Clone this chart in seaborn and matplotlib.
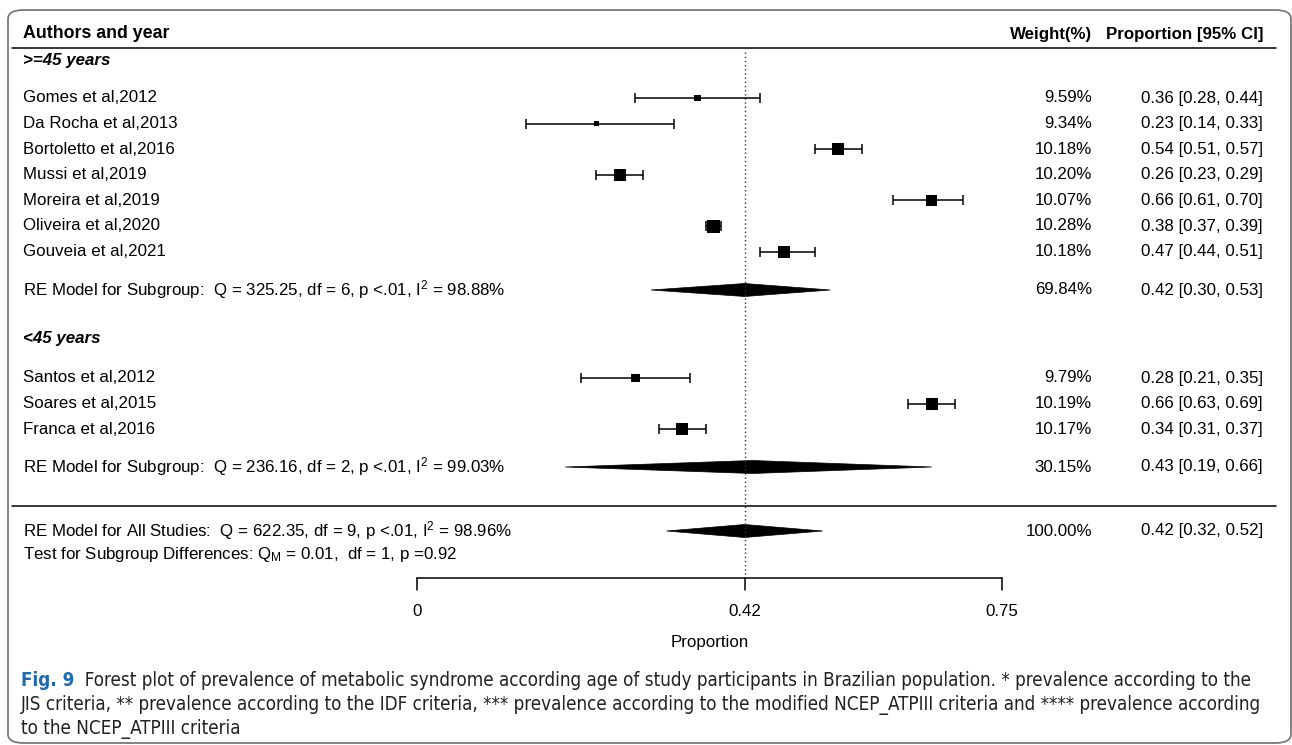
import numpy as np
import pandas as pd
import seaborn as sns
import matplotlib
matplotlib.use("Agg")
import matplotlib.pyplot as plt
from matplotlib.patches import FancyBboxPatch, Polygon

# ---------------- data ----------------
group1_label = ">=45 years"
group1_studies = ["Gomes et al,2012", "Da Rocha et al,2013", "Bortoletto et al,2016",
                  "Mussi et al,2019", "Moreira et al,2019", "Oliveira et al,2020",
                  "Gouveia et al,2021"]
group1_est = [0.36, 0.23, 0.54, 0.26, 0.66, 0.38, 0.47]
group1_lo = [0.28, 0.14, 0.51, 0.23, 0.61, 0.37, 0.44]
group1_hi = [0.44, 0.33, 0.57, 0.29, 0.70, 0.39, 0.51]
group1_w = [9.59, 9.34, 10.18, 10.20, 10.07, 10.28, 10.18]
group1_re = (0.42, 0.30, 0.53, 69.84)
group1_re_text = "RE Model for Subgroup:  Q = 325.25, df = 6, p <.01, $\\mathregular{I^2}$ = 98.88%"

group2_label = "<45 years"
group2_studies = ["Santos et al,2012", "Soares et al,2015", "Franca et al,2016"]
group2_est = [0.28, 0.66, 0.34]
group2_lo = [0.21, 0.63, 0.31]
group2_hi = [0.35, 0.69, 0.37]
group2_w = [9.79, 10.19, 10.17]
group2_re = (0.43, 0.19, 0.66, 30.15)
group2_re_text = "RE Model for Subgroup:  Q = 236.16, df = 2, p <.01, $\\mathregular{I^2}$ = 99.03%"

overall_re = (0.42, 0.32, 0.52, 100.00)
overall_text = "RE Model for All Studies:  Q = 622.35, df = 9, p <.01, $\\mathregular{I^2}$ = 98.96%"
subgroup_test_text = "Test for Subgroup Differences: $\\mathregular{Q_M}$ = 0.01,  df = 1, p =0.92"

x_ticks = [0, 0.42, 0.75]
x_tick_labels = ["0", "0.42", "0.75"]
x_label = "Proportion"
ref_line = 0.42

caption_bold = "Fig. 9"
caption_lines = [
    "Forest plot of prevalence of metabolic syndrome according age of study participants in Brazilian population. * prevalence according to the",
    "JIS criteria, ** prevalence according to the IDF criteria, *** prevalence according to the modified NCEP_ATPIII criteria and **** prevalence according",
    "to the NCEP_ATPIII criteria",
]

# ---------------- layout ----------------
W, H = 1292, 745
sns.set_theme(style="white")
plt.rcParams["font.family"] = ["Liberation Sans", "DejaVu Sans"]
plt.rcParams["mathtext.default"] = "regular"
plt.rcParams["text.color"] = "black"

fig = plt.figure(figsize=(W / 100, H / 100), dpi=100)
ax = fig.add_axes([0, 0, 1, 1])
X0, SCALE = 417, 780.0  # pixel of x=0, pixels per unit
ax.set_xlim(-X0 / SCALE, (W - X0) / SCALE)
ax.set_ylim(H, 0)
ax.axis("off")


def fx(px):
    return (px - X0) / SCALE


FS = 12.2
row_h = 25.6
col_label = fx(23)
col_w = fx(1092)
col_ci = fx(1263)
line_l, line_r = fx(12), fx(1276)

# header
ax.text(col_label, 34, "Authors and year", fontsize=FS + 0.6, fontweight="bold", va="center", ha="left")
ax.text(col_w, 34, "Weight(%)", fontsize=FS, fontweight="bold", va="center", ha="right")
ax.text(col_ci, 34, "Proportion [95% CI]", fontsize=FS, fontweight="bold", va="center", ha="right")
ax.plot([line_l, line_r], [48, 48], color="black", lw=1.1)

g1_y = [98 + i * row_h for i in range(len(group1_studies))]
g2_y = [378 + i * row_h for i in range(len(group2_studies))]
df = pd.DataFrame({
    "study": group1_studies + group2_studies,
    "est": group1_est + group2_est,
    "lo": group1_lo + group2_lo,
    "hi": group1_hi + group2_hi,
    "w": group1_w + group2_w,
    "y": g1_y + g2_y,
})
wmin, wmax = df["w"].min(), df["w"].max()
side_px = 4.5 + (df["w"] - wmin) / (wmax - wmin) * 8.5
area = (side_px * 0.72) ** 2
sizes = dict(zip(df["study"], area))

# dotted reference line
ax.plot([ref_line, ref_line], [52, 578], color="#333333", lw=1.0, ls=(0, (1, 2)))

# CI lines
ax.hlines(df["y"], df["lo"], df["hi"], color="black", lw=1.1)
ax.vlines(df["lo"], df["y"] - 5, df["y"] + 5, color="black", lw=1.1)
ax.vlines(df["hi"], df["y"] - 5, df["y"] + 5, color="black", lw=1.1)
sns.scatterplot(data=df, x="est", y="y", size="study", sizes=sizes, marker="s",
                color="black", edgecolor="none", legend=False, ax=ax, zorder=5)

for _, r in df.iterrows():
    ax.text(col_label, r["y"], r["study"], fontsize=FS, va="center", ha="left")
    ax.text(col_w, r["y"], f"{r['w']:.2f}%", fontsize=FS, va="center", ha="right")
    ax.text(col_ci, r["y"], f"{r['est']:.2f} [{r['lo']:.2f}, {r['hi']:.2f}]",
            fontsize=FS, va="center", ha="right")

# group labels
ax.text(col_label, 61, group1_label, fontsize=FS, fontweight="bold", style="italic", va="center")
ax.text(col_label, 339, group2_label, fontsize=FS, fontweight="bold", style="italic", va="center")


def diamond(y, est, lo, hi, w, txt):
    ax.add_patch(Polygon([(lo, y), (est, y - 6.5), (hi, y), (est, y + 6.5)],
                         closed=True, color="black", lw=0.5))
    ax.text(col_label, y, txt, fontsize=FS, va="center", ha="left")
    ax.text(col_w, y, f"{w:.2f}%", fontsize=FS, va="center", ha="right")
    ax.text(col_ci, y, f"{est:.2f} [{lo:.2f}, {hi:.2f}]", fontsize=FS, va="center", ha="right")


diamond(290, group1_re[0], group1_re[1], group1_re[2], group1_re[3], group1_re_text)
diamond(467, group2_re[0], group2_re[1], group2_re[2], group2_re[3], group2_re_text)
ax.plot([line_l, line_r], [506, 506], color="black", lw=1.1)
diamond(531, overall_re[0], overall_re[1], overall_re[2], overall_re[3], overall_text)
ax.text(col_label, 555, subgroup_test_text, fontsize=FS, va="center", ha="left")

# x axis
ax.plot([x_ticks[0], x_ticks[-1]], [578, 578], color="black", lw=1.1)
for t, lab in zip(x_ticks, x_tick_labels):
    ax.plot([t, t], [578, 590], color="black", lw=1.1)
    ax.text(t, 612, lab, fontsize=FS, ha="center", va="center")
ax.text((x_ticks[0] + x_ticks[-1]) / 2, 643, x_label, fontsize=FS, ha="center", va="center")

# frame
frame = FancyBboxPatch((8 / W, 2 / H), 1283 / W, 733 / H,
                       boxstyle="round,pad=0,rounding_size=0.012",
                       transform=fig.transFigure, fill=False, ec="#7a7a7a", lw=1.3)
fig.patches.append(frame)

# caption
cap_kw = dict(family=["DejaVu Sans", "Liberation Sans"], stretch="condensed")
cap_fs = 13.5
t0 = ax.text(fx(21), 681, caption_bold, fontsize=cap_fs, fontweight="bold",
             color="#1f6bb0", va="center", ha="left", **cap_kw)
ax.annotate("  " + caption_lines[0], xy=(1, 0.5), xycoords=t0, va="center", ha="left",
            fontsize=cap_fs, color="#222222", **cap_kw)
ax.text(fx(21), 705, caption_lines[1], fontsize=cap_fs, va="center", ha="left", color="#222222", **cap_kw)
ax.text(fx(21), 729, caption_lines[2], fontsize=cap_fs, va="center", ha="left", color="#222222", **cap_kw)

fig.savefig("out.png", dpi=100)
